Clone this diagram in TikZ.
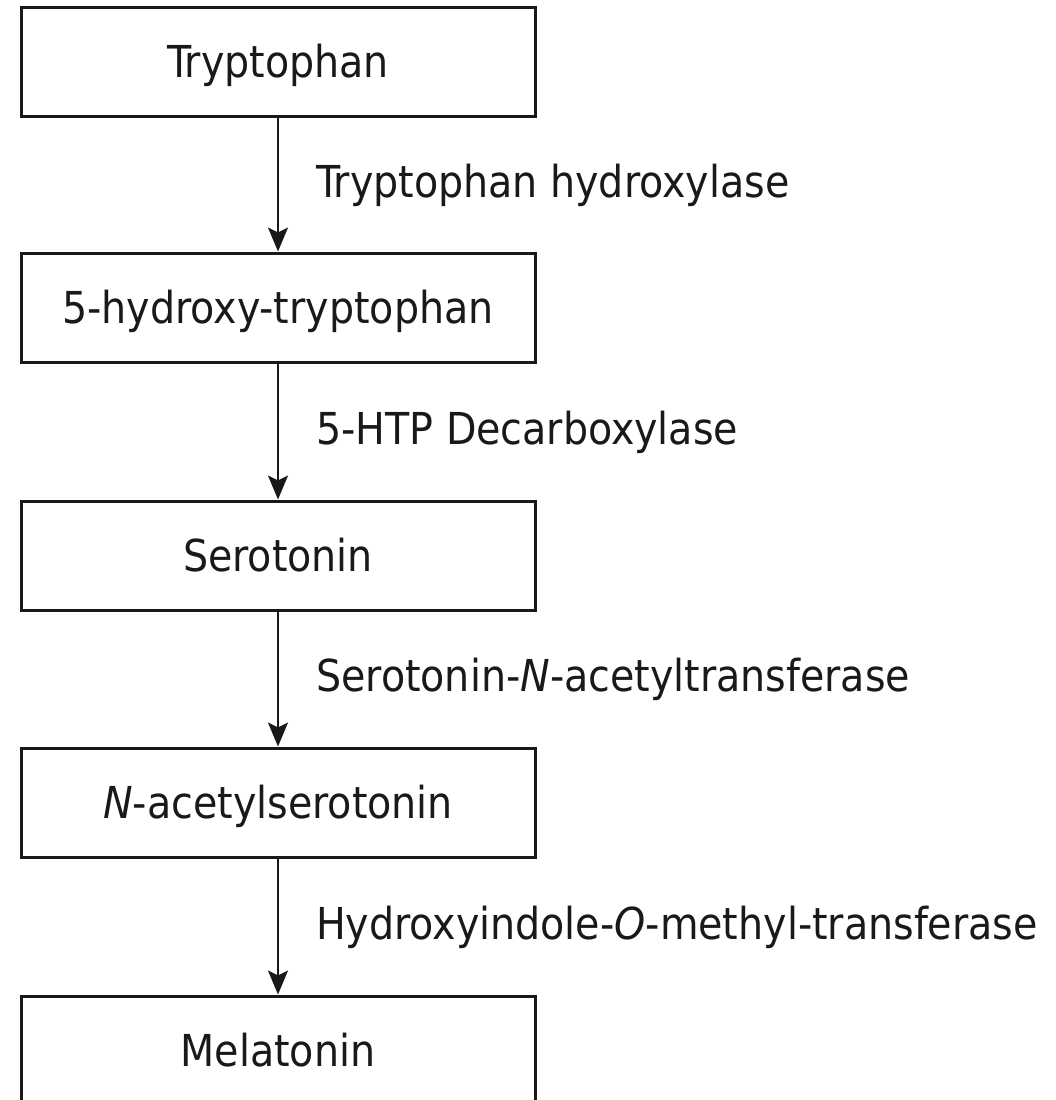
\documentclass[tikz,border=0pt]{standalone}
\usepackage{fontspec}
\setmainfont{DejaVu Sans Condensed}[ItalicFont={DejaVu Sans Condensed Oblique}]
\usetikzlibrary{arrows.meta}

\tikzset{
  stoff/.style={draw=black!90, line width=3pt, minimum width=514pt, minimum height=109pt,
    inner sep=0pt, text height=32pt, text depth=0pt, text=black!90,
    font=\fontsize{44}{50}\selectfont},
  enzym/.style={anchor=base west, inner sep=0pt, text=black!90,
    font=\fontsize{44}{50}\selectfont},
  pfeil/.style={-{Stealth[length=24pt,width=20pt,inset=5pt]}, line width=2.5pt, draw=black!90}
}

\begin{document}
\begin{tikzpicture}[x=1pt, y=-1pt]

	% Bildrahmen (unten abgeschnitten wie im Original)
	\useasboundingbox (0,0) rectangle (1056,1100);
	\clip (0,0) rectangle (1056,1100);

	% Stoffe des Synthesewegs
	\node[stoff] (trp) at (278,61.5) {Tryptophan};
	\node[stoff] (htp) at (278,307.5) {5-hydroxy-tryptophan};
	\node[stoff] (ser) at (278,555.5) {Serotonin};
	\node[stoff] (nas) at (278,802.5) {\textit{N}-acetylserotonin};
	\node[stoff] (mel) at (278,1050.5) {Melatonin};

	% Pfeile zwischen den Kästen
	\draw[pfeil] (trp.south) -- (htp.north);
	\draw[pfeil] (htp.south) -- (ser.north);
	\draw[pfeil] (ser.south) -- (nas.north);
	\draw[pfeil] (nas.south) -- (mel.north);

	% Enzyme rechts neben den Pfeilen
	\node[enzym] (e1) at (316,197) {Tryptophan hydroxylase};
	\node[enzym] (e2) at (316,444) {5-HTP Decarboxylase};
	\node[enzym] (e3) at (316,691) {Serotonin-\textit{N}-acetyltransferase};
	\node[enzym] (e4) at (316,939) {Hydroxyindole-\textit{O}-methyl-transferase};

\end{tikzpicture}
\end{document}
